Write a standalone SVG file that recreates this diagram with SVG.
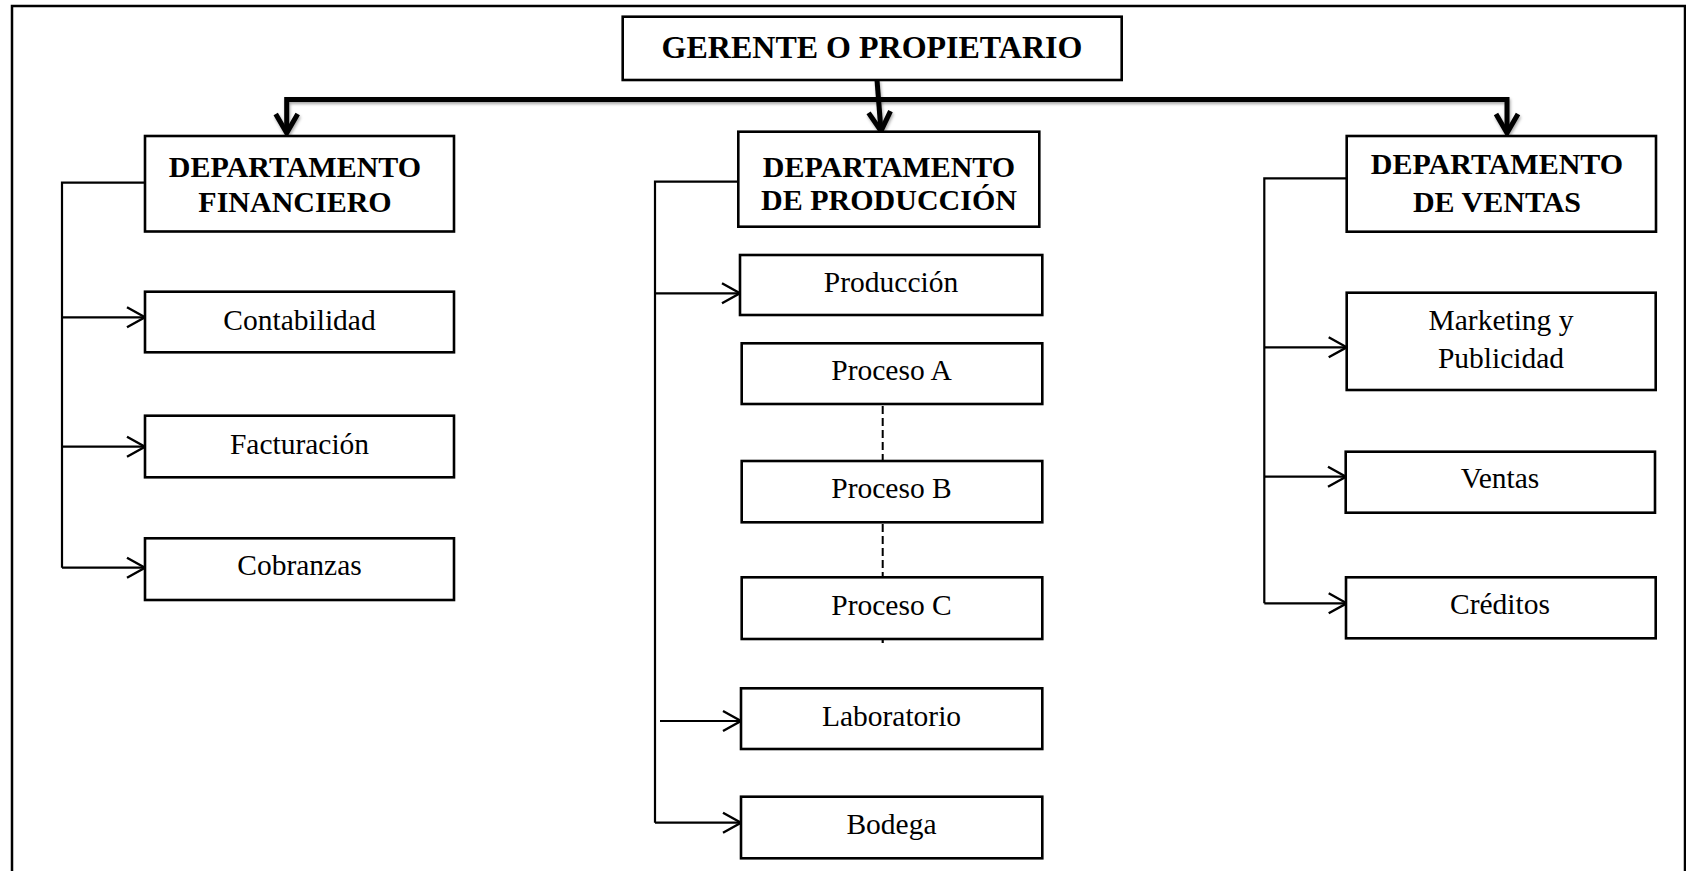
<svg xmlns="http://www.w3.org/2000/svg" width="1686" height="871" viewBox="0 0 1686 871">
<style>
.box{fill:#fff;stroke:#000;stroke-width:2.6}
.t{font-family:"Liberation Serif","Times New Roman",serif;font-size:29.5px;fill:#000;text-anchor:middle}
.b{font-weight:bold;font-size:30px}
.g{font-size:32px}
.ln{fill:none;stroke:#000;stroke-width:2.2}
.thick{fill:none;stroke:#000;stroke-width:5;filter:url(#sh)}
.dash{fill:none;stroke:#000;stroke-width:2;stroke-dasharray:8 4}
</style>
<defs>
<filter id="sh" filterUnits="userSpaceOnUse" x="0" y="0" width="1686" height="871">
<feDropShadow dx="1" dy="2" stdDeviation="1.5" flood-color="#000" flood-opacity="0.35"/>
</filter>
<marker id="open" viewBox="-20 -12 22 24" markerWidth="22" markerHeight="24" refX="0" refY="0" orient="auto" markerUnits="userSpaceOnUse">
<path d="M-18,-10 L0,0 L-18,10" fill="none" stroke="#000" stroke-width="2.4"/>
</marker>
<marker id="big" viewBox="-24 -14 27 28" markerWidth="27" markerHeight="28" refX="0" refY="0" orient="auto-start-reverse" markerUnits="userSpaceOnUse">
<path d="M-19,-11 L0,0 L-19,11" fill="none" stroke="#000" stroke-width="5" stroke-linejoin="miter"/>
</marker>
</defs>
<rect width="1686" height="871" fill="#fff"/>
<g id="frame">
<path d="M12,871 V6 H1685 V871" fill="none" stroke="#000" stroke-width="2.5"/>
</g>
<g id="connectors">
<path class="thick" d="M286.7,133 V99.5 H1507 V133" marker-start="url(#big)" marker-end="url(#big)"/>
<path class="thick" d="M877,80 L881,131" marker-end="url(#big)"/>
<path class="ln" d="M145,182.7 H62 V567.7"/>
<path class="ln" d="M62,317.3 H145" marker-end="url(#open)"/>
<path class="ln" d="M62,446.7 H145" marker-end="url(#open)"/>
<path class="ln" d="M62,567.7 H145" marker-end="url(#open)"/>
<path class="ln" d="M738.3,181.7 H655 V822.7"/>
<path class="ln" d="M655,293.3 H740" marker-end="url(#open)"/>
<path class="ln" d="M660,721 H741" marker-end="url(#open)"/>
<path class="ln" d="M655,822.7 H741" marker-end="url(#open)"/>
<path class="ln" d="M1346.7,178.3 H1264.3 V603.3"/>
<path class="ln" d="M1264.3,347.3 H1346.7" marker-end="url(#open)"/>
<path class="ln" d="M1264.3,476.7 H1346" marker-end="url(#open)"/>
<path class="ln" d="M1264.3,603.3 H1346.7" marker-end="url(#open)"/>
<path class="dash" d="M882.7,406 V461"/>
<path class="dash" d="M882.7,524 V577"/>
<path class="ln" d="M882.7,639 V643"/>
</g>
<g id="gerente">
<rect class="box" x="622.7" y="16.7" width="499" height="63.3"/>
<text class="t b g" x="872" y="58">GERENTE O PROPIETARIO</text>
</g>
<g id="dep-financiero">
<rect class="box" x="145" y="136" width="309" height="95.5"/>
<text class="t b" x="295" y="177">DEPARTAMENTO</text>
<text class="t b" x="295" y="212">FINANCIERO</text>
</g>
<g id="contabilidad">
<rect class="box" x="145" y="291.7" width="309" height="60.6"/>
<text class="t" x="299.5" y="330">Contabilidad</text>
</g>
<g id="facturacion">
<rect class="box" x="145" y="415.7" width="309" height="61.6"/>
<text class="t" x="299.5" y="454.3">Facturación</text>
</g>
<g id="cobranzas">
<rect class="box" x="145" y="538.3" width="309" height="61.7"/>
<text class="t" x="299.5" y="575">Cobranzas</text>
</g>
<g id="dep-produccion">
<rect class="box" x="738.3" y="131.7" width="301" height="95"/>
<text class="t b" x="889" y="176.7">DEPARTAMENTO</text>
<text class="t b" x="889" y="210">DE PRODUCCIÓN</text>
</g>
<g id="produccion">
<rect class="box" x="740" y="255" width="302.3" height="60"/>
<text class="t" x="891" y="291.7">Producción</text>
</g>
<g id="proceso-a">
<rect class="box" x="741.7" y="343.3" width="300.6" height="60.7"/>
<text class="t" x="891.5" y="380">Proceso A</text>
</g>
<g id="proceso-b">
<rect class="box" x="741.7" y="461" width="300.6" height="61.3"/>
<text class="t" x="891.5" y="498">Proceso B</text>
</g>
<g id="proceso-c">
<rect class="box" x="741.7" y="577.3" width="300.6" height="61.7"/>
<text class="t" x="891.5" y="614.5">Proceso C</text>
</g>
<g id="laboratorio">
<rect class="box" x="741" y="688.3" width="301.3" height="60.7"/>
<text class="t" x="891.5" y="726">Laboratorio</text>
</g>
<g id="bodega">
<rect class="box" x="741" y="796.7" width="301.3" height="61.6"/>
<text class="t" x="891.5" y="833.5">Bodega</text>
</g>
<g id="dep-ventas">
<rect class="box" x="1346.7" y="136" width="309.3" height="95.7"/>
<text class="t b" x="1497" y="174">DEPARTAMENTO</text>
<text class="t b" x="1497" y="211.5">DE VENTAS</text>
</g>
<g id="marketing">
<rect class="box" x="1346.7" y="292.7" width="309" height="97.3"/>
<text class="t" x="1501" y="330">Marketing y</text>
<text class="t" x="1501" y="368.3">Publicidad</text>
</g>
<g id="ventas">
<rect class="box" x="1345.7" y="451.7" width="309.3" height="61"/>
<text class="t" x="1500" y="488.3">Ventas</text>
</g>
<g id="creditos">
<rect class="box" x="1346" y="577.3" width="309.7" height="61"/>
<text class="t" x="1500" y="614">Créditos</text>
</g>
</svg>
